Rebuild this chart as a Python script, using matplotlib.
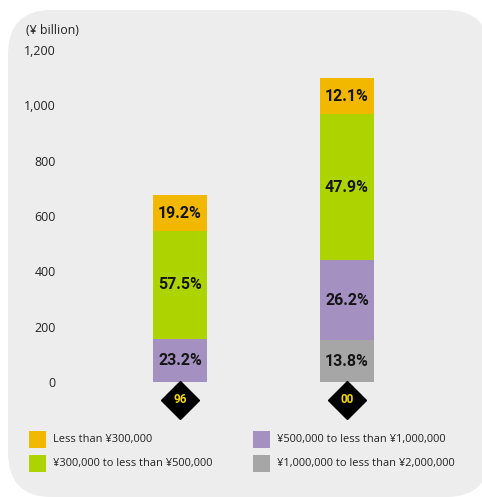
import matplotlib
matplotlib.use("Agg")
import matplotlib.pyplot as plt
from matplotlib.patches import FancyBboxPatch, Rectangle

W, H = 482, 497

years = ["96", "00"]
totals = [675, 1100]
brackets = ["Less than ¥300,000", "¥300,000 to less than ¥500,000",
            "¥500,000 to less than ¥1,000,000", "¥1,000,000 to less than ¥2,000,000"]
colors = ["#f2b800", "#aed400", "#a491c1", "#a6a6a6"]
# share of each bracket (%), stacked from the top bracket down
shares_96 = [19.2, 57.5, 23.2, 0.0]
shares_00 = [12.1, 47.9, 26.2, 13.8]
yticks = [0, 200, 400, 600, 800, 1000, 1200]
ytick_labels = ["0", "200", "400", "600", "800", "1,000", "1,200"]

plt.rcParams["font.family"] = ["Open Sans", "DejaVu Sans"]


def fx(x):
    return x / W


def fy(y):
    return 1 - y / H


fig = plt.figure(figsize=(W / 100, H / 100), dpi=100, facecolor="white")

# rounded grey panel
bg = FancyBboxPatch((fx(8), fy(497)), fx(490) - fx(8), fy(10) - fy(497),
                    boxstyle="round,pad=0,rounding_size=0.09",
                    transform=fig.transFigure, facecolor="#ededed",
                    edgecolor="none", zorder=-10)
fig.patches.append(bg)

ax = fig.add_axes([fx(60), fy(382), fx(470) - fx(60), fy(50) - fy(382)])
ax.set_zorder(5)
ax.set_facecolor("none")
for s in ax.spines.values():
    s.set_visible(False)

xpos = [0, 1]
width = 0.323
# stack from the bottom: reverse order so the highest bracket sits at top
for i, shares in enumerate([shares_96, shares_00]):
    vals = [totals[i] * p / 100 for p in shares]
    bottom = 0
    for k in [3, 2, 1, 0]:
        v = vals[k]
        if v <= 0:
            continue
        ax.bar(xpos[i], v, width, bottom=bottom, color=colors[k], zorder=2)
        ax.text(xpos[i], bottom + v / 2, f"{shares[k]:.1f}%", ha="center",
                va="center", fontsize=11.5, fontweight="bold",
                color="#151515", family=["Roboto", "DejaVu Sans"], zorder=3)
        bottom += v

ax.set_xlim(-0.719, 1.737)
ax.set_ylim(0, 1200)
ax.set_xticks([])
ax.set_yticks(yticks)
ax.set_yticklabels(ytick_labels, fontsize=8.9, color="#222222")
ax.tick_params(axis="y", length=0, pad=3)

# year markers under the bars
ax.plot(xpos, [-65, -65], linestyle="none", marker="D", markersize=19,
        color="black", clip_on=False, zorder=3)
for i, yr in enumerate(years):
    ax.text(xpos[i], -65, yr, ha="center", va="center", fontsize=8.5,
            fontweight="bold", color="#f5d800", clip_on=False, zorder=4,
            family=["Roboto", "DejaVu Sans"])

fig.text(fx(26), fy(31), "(¥ billion)", ha="left", va="center",
         fontsize=8.9, color="#222222")

# legend
legend_pos = [(29, 431), (29, 455), (253, 431), (253, 455)]
for (lx, ly), lab, c in zip(legend_pos, brackets, colors):
    fig.patches.append(Rectangle((fx(lx), fy(ly + 17)), fx(17), 17 / H,
                                 transform=fig.transFigure, facecolor=c,
                                 edgecolor="none"))
    fig.text(fx(lx + 24), fy(ly + 8.5), lab, ha="left", va="center",
             fontsize=7.9, color="#222222")

fig.savefig("out.png", dpi=100, facecolor="white")
